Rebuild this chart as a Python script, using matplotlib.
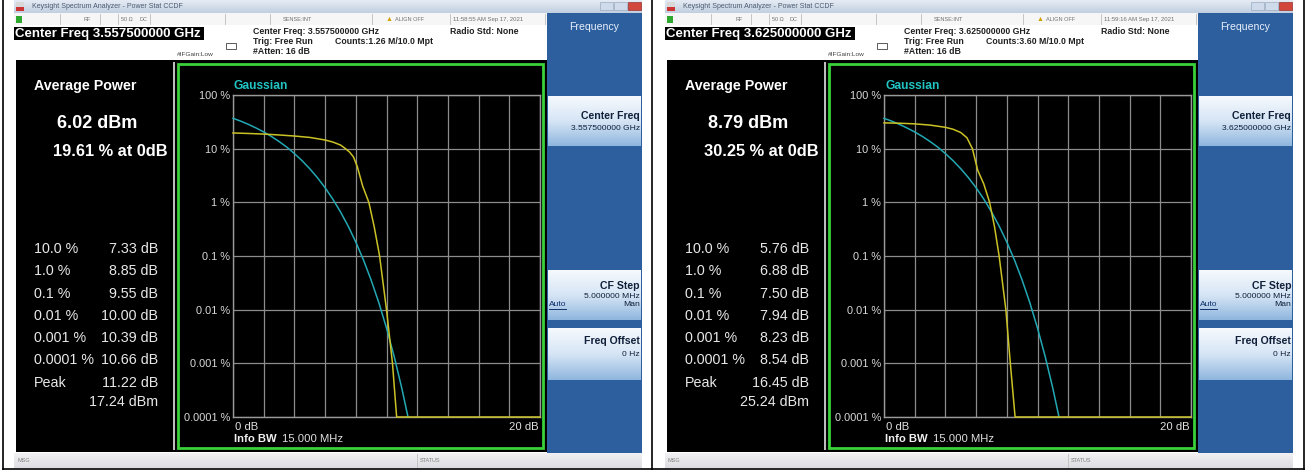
#!/usr/bin/env python3
"""
Two Keysight Power Stat CCDF screenshots side by side, redrawn with matplotlib.
"""

import numpy as np
import matplotlib.pyplot as plt
from matplotlib.patches import Rectangle
from matplotlib.colors import to_rgb

plt.rcParams['font.family'] = ['Liberation Sans', 'DejaVu Sans']

W, H = 1307, 470

# Gaussian reference curve (same on both screens), dB vs percent
gauss_db = [0, 0.5, 1, 1.5, 2, 2.5, 3, 3.5, 4, 4.5, 5, 5.5, 6, 6.5, 7, 7.5,
            8, 8.5, 9, 9.5, 10, 10.5, 11, 11.4]
gauss_pct = [36.8, 32.6, 28.4, 24.3, 20.5, 16.9, 13.6, 10.7, 8.1, 5.97, 4.23,
             2.88, 1.87, 1.15, 0.666, 0.362, 0.182, 0.0843, 0.0355, 0.0135,
             0.00454, 0.00134, 0.000341, 0.0001]

# measured CCDF, left screen (3.5575 GHz)
left_db = [0, 1, 2, 3, 4, 5, 6, 6.5, 7, 7.33, 7.6, 7.85, 8.1, 8.45, 8.85,
           9.2, 9.55, 10.0, 10.39, 10.66, 20]
left_pct = [19.61, 19.2, 18.7, 18.0, 17.2, 16.2, 14.5, 13.3, 11.7, 10.0, 8.6,
            7.0, 4.6, 2.0, 1.0, 0.35, 0.1, 0.01, 0.001, 0.0001, 0.0001]

# measured CCDF, right screen (3.625 GHz)
right_db = [0, 1, 2, 3, 4, 4.5, 5, 5.4, 5.76, 6.1, 6.5, 6.88, 7.2, 7.5, 7.94,
            8.23, 8.54, 20]
right_pct = [30.25, 29.8, 29.0, 27.5, 25.0, 23.0, 20.0, 16.0, 10.0, 4.0, 2.2,
             1.0, 0.35, 0.1, 0.01, 0.001, 0.0001, 0.0001]

prob_labels = ["10.0 %", "1.0 %", "0.1 %", "0.01 %", "0.001 %", "0.0001 %"]
ytick_vals = [100, 10, 1, 0.1, 0.01, 0.001, 0.0001]
ytick_labels = ["100 %", "10 %", "1 %", "0.1 %", "0.01 %", "0.001 %", "0.0001 %"]

screens = [
    dict(ox=0, freq="3.557500000", counts="1.26", time="11:58:55 AM Sep 17, 2021",
         avg="6.02 dBm", at0="19.61 % at 0dB",
         vals=["7.33 dB", "8.85 dB", "9.55 dB", "10.00 dB", "10.39 dB", "10.66 dB"],
         peak="11.22 dB", peak_dbm="17.24 dBm", db=left_db, pct=left_pct),
    dict(ox=651, freq="3.625000000", counts="3.60", time="11:59:16 AM Sep 17, 2021",
         avg="8.79 dBm", at0="30.25 % at 0dB",
         vals=["5.76 dB", "6.88 dB", "7.50 dB", "7.94 dB", "8.23 dB", "8.54 dB"],
         peak="16.45 dB", peak_dbm="25.24 dBm", db=right_db, pct=right_pct),
]

PT = 72 / 100  # pixels -> points at dpi 100


def rect(ax, x0, y0, x1, y1, fc, ec='none', lw=0, z=1):
    ax.add_patch(Rectangle((x0, y0), x1 - x0, y1 - y0, fc=fc, ec=ec, lw=lw, zorder=z))


def grad(ax, x0, y0, x1, y1, c_top, c_bot, z=1):
    t = np.linspace(0, 1, 64)[:, None, None]
    img = (1 - t) * np.array(to_rgb(c_top)) + t * np.array(to_rgb(c_bot))
    ax.imshow(img, extent=(x0, x1, y1, y0), origin='upper', aspect='auto',
              interpolation='bilinear', zorder=z)


def txt(ax, x, y, s, size_px, color='black', weight='normal', ha='left', **kw):
    return ax.text(x, y, s, fontsize=size_px * PT, color=color, weight=weight,
                   ha=ha, va='center', zorder=5, **kw)


fig = plt.figure(figsize=(W / 100, H / 100), dpi=100)
bg = fig.add_axes([0, 0, 1, 1])
bg.axis('off')

# table cell borders around the two screenshots
for x in [3, 652, 1304]:
    bg.plot([x, x], [0, H], color='black', lw=1.2, zorder=6)
bg.plot([3, 1304], [469, 469], color='black', lw=1.2, zorder=6)

for sc in screens:
    ox = sc['ox']
    x0, x1 = ox + 14, ox + 642

    # window title bar
    grad(bg, x0, 0, x1, 13, '#e6ecf4', '#c1cfe0')
    rect(bg, x0 + 2, 2, x0 + 10, 7, '#d8d8d8')
    rect(bg, x0 + 2, 7, x0 + 10, 11, '#cc3333')
    txt(bg, x0 + 18, 6.5, "Keysight Spectrum Analyzer - Power Stat CCDF", 7, '#4a5a70')
    rect(bg, x1 - 42, 2, x1 - 29, 10, '#cfdbea', ec='#9aabc0', lw=0.5)
    rect(bg, x1 - 28, 2, x1 - 15, 10, '#cfdbea', ec='#9aabc0', lw=0.5)
    rect(bg, x1 - 14, 2, x1 - 1, 10, '#d2473c', ec='#9a3030', lw=0.5)

    # status row
    rect(bg, x0, 13, ox + 547, 25, '#f6f6f6')
    rect(bg, x0 + 2, 16, x0 + 8, 23, '#2ea82e')
    for sx in [60, 100, 118, 150, 225, 270, 372, 450, 545]:
        bg.plot([ox + sx, ox + sx], [14, 24], color='#bdbdbd', lw=0.6, zorder=3)
    txt(bg, ox + 84, 19.5, "RF", 5.5, '#707070')
    txt(bg, ox + 121, 19.5, "50 Ω", 5.5, '#707070')
    txt(bg, ox + 139, 19.5, "DC", 5.5, '#707070')
    txt(bg, ox + 283, 19.5, "SENSE:INT", 5.5, '#707070')
    txt(bg, ox + 386, 19.5, "▲", 7, '#d0a000')
    txt(bg, ox + 395, 19.5, "ALIGN OFF", 5.5, '#707070')
    txt(bg, ox + 453, 19.5, sc['time'], 6, '#707070')

    # header
    rect(bg, x0, 25, ox + 547, 61, 'white')
    rect(bg, x0, 27, ox + 204, 40, 'black')
    txt(bg, x0 + 1, 33.5, f"Center Freq {sc['freq']} GHz", 13.2, 'white', 'bold')
    txt(bg, ox + 253, 31, f"Center Freq: {sc['freq']} GHz", 8.8, '#202020', 'bold')
    txt(bg, ox + 253, 42, "Trig: Free Run", 8.8, '#202020', 'bold')
    txt(bg, ox + 253, 52, "#Atten: 16 dB", 8.8, '#202020', 'bold')
    txt(bg, ox + 335, 42, f"Counts:{sc['counts']} M/10.0 Mpt", 8.8, '#202020', 'bold')
    txt(bg, ox + 450, 31, "Radio Std: None", 8.8, '#202020', 'bold')
    txt(bg, ox + 177, 54, "#IFGain:Low", 6.5, '#404040')
    rect(bg, ox + 226, 43, ox + 236, 49, 'white', ec='#404040', lw=0.6)

    # black panels
    rect(bg, x0 + 2, 60, ox + 547, 452, 'black')
    rect(bg, ox + 173, 62, ox + 175, 450, '#bdbdbd')

    # left numbers panel
    txt(bg, ox + 34, 86, "Average Power", 14.3, 'white', 'bold')
    txt(bg, ox + 97.5, 123, sc['avg'], 18, 'white', 'bold', ha='center')
    txt(bg, ox + 110.5, 151, sc['at0'], 16.4, 'white', 'bold', ha='center')
    for i, (lab, val) in enumerate(zip(prob_labels, sc['vals'])):
        y = 249 + i * 22.3
        txt(bg, ox + 34, y, lab, 14.2, '#e8e8e8')
        txt(bg, ox + 158, y, val, 14.2, '#e8e8e8', ha='right')
    txt(bg, ox + 34, 383, "Peak", 14.2, '#e8e8e8')
    txt(bg, ox + 158, 383, sc['peak'], 14.2, '#e8e8e8', ha='right')
    txt(bg, ox + 158, 402, sc['peak_dbm'], 14.2, '#e8e8e8', ha='right')

    # graph panel with green frame
    rect(bg, ox + 178, 64, ox + 543, 448, 'black', ec='#3ad13a', lw=2, z=2)
    txt(bg, ox + 234, 86, "Gaussian", 12, '#22c4c4', 'bold')
    txt(bg, ox + 235, 427, "0 dB", 11.3, '#e0e0e0')
    txt(bg, ox + 539, 427, "20 dB", 11.3, '#e0e0e0', ha='right')
    txt(bg, ox + 234, 439, "Info BW", 11.3, '#f0f0f0', 'bold')
    txt(bg, ox + 282, 439, "15.000 MHz", 11.3, '#e0e0e0')

    # right softkey panel
    rect(bg, ox + 547, 13, ox + 642, 462, '#2d5f9e')
    txt(bg, ox + 594, 27, "Frequency", 10.5, '#e8f0fa', ha='center')
    for (b0, b1) in [(97, 146), (271, 320), (329, 380)]:
        grad(bg, ox + 548, b0, ox + 641, (b0 + b1) / 2, '#f6f9fd', '#d6e5f5', z=2)
        grad(bg, ox + 548, (b0 + b1) / 2, ox + 641, b1, '#d6e5f5', '#8fb6de', z=2)
    txt(bg, ox + 640, 116, "Center Freq", 10.5, '#10203a', 'bold', ha='right')
    txt(bg, ox + 640, 128, f"{sc['freq']} GHz", 8.5, '#10203a', ha='right')
    txt(bg, ox + 640, 286, "CF Step", 10.5, '#10203a', 'bold', ha='right')
    txt(bg, ox + 640, 296, "5.000000 MHz", 8.5, '#10203a', ha='right')
    txt(bg, ox + 549, 305, "Auto", 8.5, '#10306a')
    bg.plot([ox + 549, ox + 566], [309, 309], color='#10306a', lw=0.7, zorder=5)
    txt(bg, ox + 640, 305, "Man", 8.5, '#10203a', ha='right')
    txt(bg, ox + 640, 341, "Freq Offset", 10.5, '#10203a', 'bold', ha='right')
    txt(bg, ox + 640, 354, "0 Hz", 8.5, '#10203a', ha='right')

    # bottom message bar
    grad(bg, x0, 453, x1, 468, '#f2f2f4', '#dcdce2')
    txt(bg, x0 + 3, 460, "MSG", 5.5, '#808080')
    bg.plot([ox + 417, ox + 417], [454, 467], color='#c0c0c0', lw=0.6, zorder=5)
    txt(bg, ox + 420, 460, "STATUS", 5.5, '#808080')

bg.set_xlim(0, W)
bg.set_ylim(H, 0)

# the CCDF plots
for sc in screens:
    ox = sc['ox']
    gx0, gx1, gy0, gy1 = ox + 233, ox + 540, 95, 417
    ax = fig.add_axes([gx0 / W, 1 - gy1 / H, (gx1 - gx0) / W, (gy1 - gy0) / H])
    ax.set_facecolor('black')
    ax.set_yscale('log')
    ax.set_xlim(0, 20)
    ax.set_ylim(0.0001, 100)
    ax.set_xticks(np.arange(0, 21, 2))
    ax.set_xticklabels([])
    ax.set_yticks(ytick_vals)
    ax.set_yticklabels(ytick_labels)
    ax.yaxis.set_minor_locator(plt.NullLocator())
    ax.tick_params(length=0, pad=2, labelsize=11 * PT, labelcolor='#d8d8d8')
    ax.grid(True, color='#8c8c8c', lw=0.9)
    for s in ax.spines.values():
        s.set_color('#9a9a9a')
        s.set_linewidth(1)

    ax.plot(gauss_db, gauss_pct, color='#23a9b4', lw=1.1, clip_on=False, zorder=3)
    ax.plot(sc['db'], sc['pct'], color='#cbc225', lw=1.1, clip_on=False, zorder=4)

fig.savefig("out.png", dpi=100, facecolor='white')
